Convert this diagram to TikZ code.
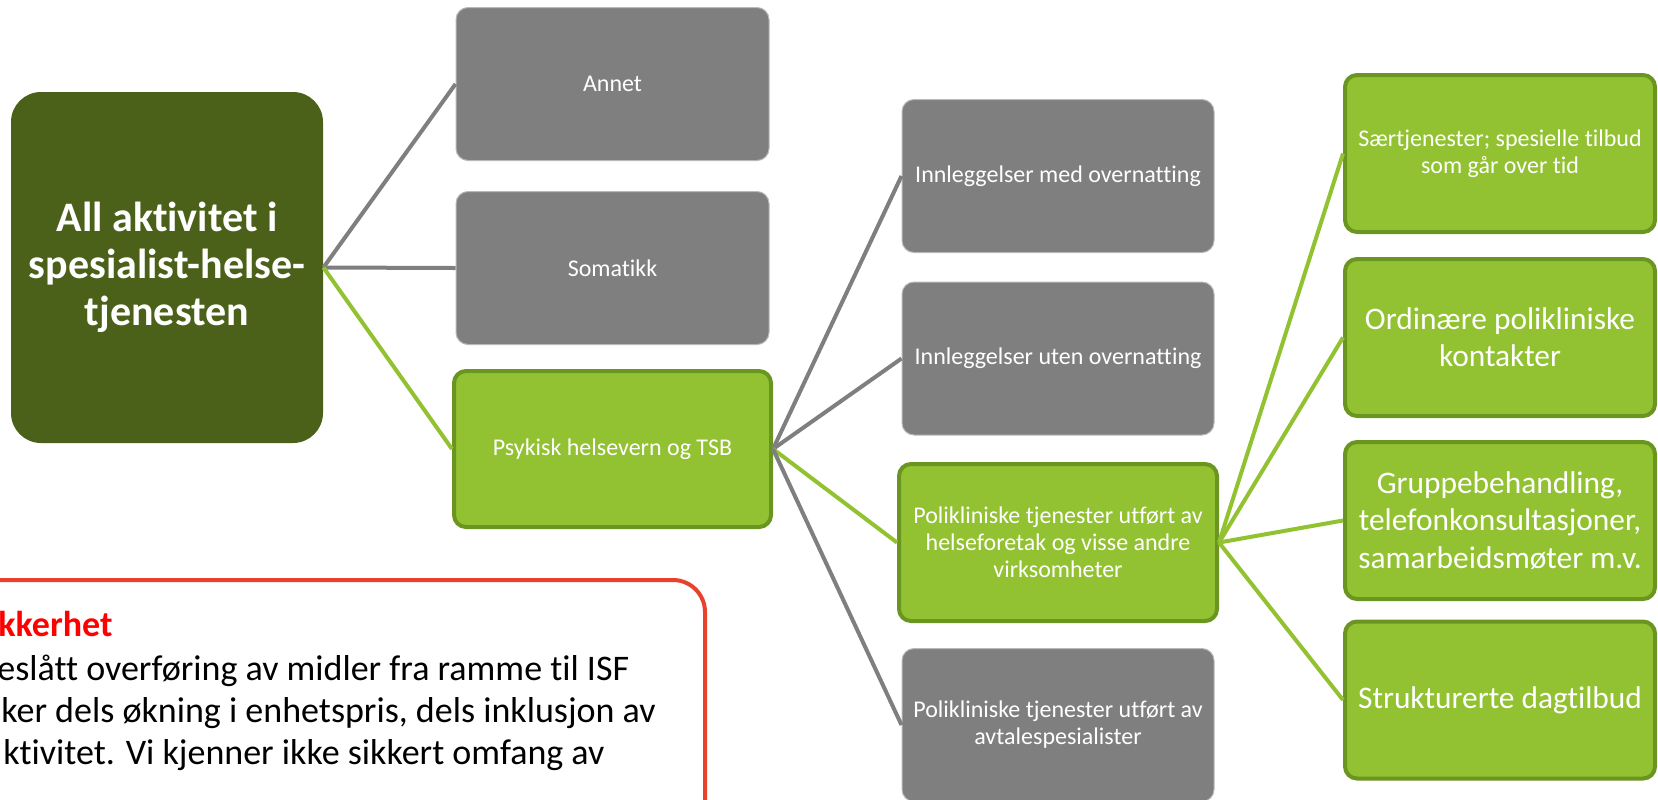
\documentclass[tikz,border=0pt]{standalone}
\usepackage{fontspec}
\setmainfont{Carlito}[Ligatures=NoCommon]
\usepackage{xcolor}
\usetikzlibrary{positioning}

\definecolor{rootgreen}{HTML}{4B6119}
\definecolor{leafgreen}{HTML}{92C231}
\definecolor{edgegreen}{HTML}{6B9521}
\definecolor{boxgrey}{HTML}{7F7F7F}
\definecolor{warnred}{HTML}{E8412C}

\begin{document}
\begin{tikzpicture}
    [x=0.5pt, y=-0.5pt,
    box/.style={rectangle, rounded corners=6pt, text=white, align=center, inner sep=0pt},
    root box/.style={box, fill=rootgreen, rounded corners=15pt, minimum width=156pt, minimum height=175.5pt,
        font=\fontsize{21}{23.5}\selectfont\bfseries},
    grey box/.style={box, fill=boxgrey, draw=boxgrey!55!white, line width=0.5pt,
        minimum width=156.5pt, minimum height=76.5pt, font=\fontsize{12}{13.5}\selectfont},
    green box/.style={box, fill=leafgreen, draw=edgegreen, line width=2pt,
        minimum width=159pt, minimum height=78.5pt, font=\fontsize{12}{13.5}\selectfont},
    right box/.style={green box, minimum width=155pt},
    big text/.style={font=\fontsize{15.7}{18.7}\selectfont},
    link/.style={line width=2pt, boxgrey},
    green link/.style={line width=2pt, leafgreen},
    note text/.style={anchor=base west, inner sep=0pt, font=\fontsize{18}{21}\selectfont}]

\clip (0,0) rectangle (1658,799);

%root of the tree
\node[root box] (all) at (167,267.5) {All aktivitet i\\spesialist-helse-\\tjenesten};

%first level
\node[grey box] (annet) at (612.5,84) {Annet};
\node[grey box] (somatikk) at (612.5,268) {Somatikk};
\node[green box, minimum width=158.5pt, minimum height=78pt] (psyk) at (612.5,449) {Psykisk helsevern og TSB};

%second level
\node[grey box, minimum width=156pt] (medover) at (1058,176) {Innleggelser med overnatting};
\node[grey box, minimum width=156pt] (utenover) at (1058,358.5) {Innleggelser uten overnatting};
\node[green box] (poli) at (1058,542.5) {Polikliniske tjenester utført av\\helseforetak og visse andre\\virksomheter};
\node[grey box, minimum width=156pt] (avtale) at (1058,725) {Polikliniske tjenester utført av\\avtalespesialister};

%third level
\node[right box] (saer) at (1500,153.5) {Særtjenester; spesielle tilbud\\som går over tid};
\node[right box, big text] (ordinaer) at (1500,337.5) {Ordinære polikliniske\\kontakter};
\node[right box, big text] (gruppe) at (1500,520.5) {Gruppebehandling,\\telefonkonsultasjoner,\\samarbeidsmøter m.v.};
\node[right box, big text] (dagtilbud) at (1500,700) {Strukturerte dagtilbud};

%connectors
\draw[link] (all.east) -- (annet.west);
\draw[link] (all.east) -- (somatikk.west);
\draw[green link] (all.east) -- (psyk.west);

\draw[link] (psyk.east) -- (medover.west);
\draw[link] (psyk.east) -- (utenover.west);
\draw[green link] (psyk.east) -- (poli.west);
\draw[link] (psyk.east) -- (avtale.west);

\draw[green link] (poli.east) -- (saer.west);
\draw[green link] (poli.east) -- (ordinaer.west);
\draw[green link] (poli.east) -- (gruppe.west);
\draw[green link] (poli.east) -- (dagtilbud.west);

%note box, cut by the page
\draw[warnred, line width=2pt, fill=white, rounded corners=16pt] (-40,580) rectangle (705,900);
\node[note text, text=red, font=\fontsize{18}{21}\selectfont\bfseries] (usikker) at (-2,636) {kkerhet};
\node[note text] (line1) at (-3,680) {eslått overføring av midler fra ramme til ISF};
\node[note text] (line2) at (1,722) {ker dels økning i enhetspris, dels inklusjon av};
\node[note text] (line3) at (3,764) {ktivitet. Vi kjenner ikke sikkert omfang av};

\end{tikzpicture}
\end{document}
